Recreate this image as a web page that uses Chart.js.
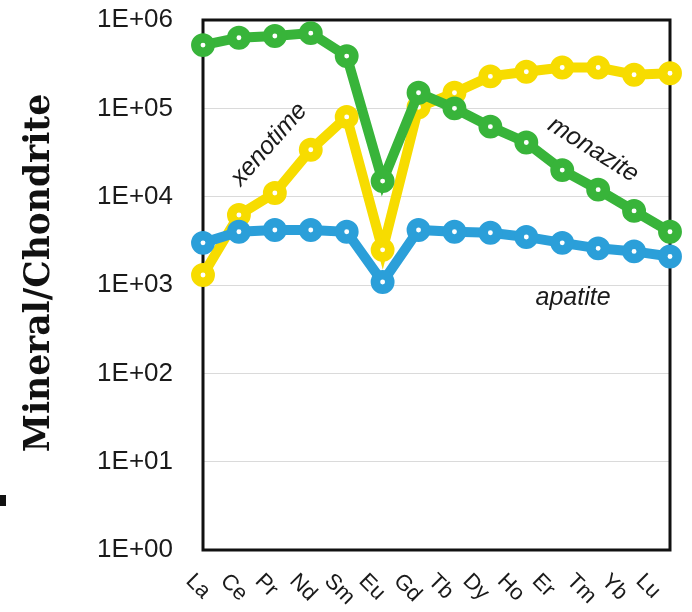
<!DOCTYPE html>
<html>
<head>
<meta charset="utf-8">
<script src="https://cdn.jsdelivr.net/npm/chart.js@4"></script>
<style>
html, body { margin: 0; padding: 0; background: #fff; }
</style>
</head>
<body>
<canvas id="reeChart" width="692" height="612"></canvas>
<script>
// REE patterns normalised to chondrite
const elements = ['La', 'Ce', 'Pr', 'Nd', 'Sm', 'Eu', 'Gd', 'Tb', 'Dy', 'Ho', 'Er', 'Tm', 'Yb', 'Lu'];
const apatite = [3000, 4000, 4200, 4200, 4000, 1080, 4200, 4000, 3900, 3500, 3000, 2600, 2400, 2100];
const monazite = [520000, 630000, 660000, 710000, 390000, 15000, 150000, 100000, 62000, 41000, 20000, 12000, 6900, 4000];
const xenotime = [1300, 6200, 11000, 34000, 80000, 2500, 103000, 150000, 230000, 260000, 290000, 290000, 240000, 250000];
const yTicks = [1, 10, 100, 1000, 10000, 100000, 1000000];
const yTickLabels = ['1E+00', '1E+01', '1E+02', '1E+03', '1E+04', '1E+05', '1E+06'];
const yTitle = 'Mineral/Chondrite';

const BLUE = '#2b9fd9';
const GREEN = '#38b43a';
const YELLOW = '#f7dc00';

function series(label, data, color) {
    return {
        label: label,
        data: data,
        borderColor: color,
        borderWidth: 10,
        pointRadius: 7.2,
        pointBorderWidth: 9.5,
        pointBackgroundColor: '#fff',
        pointBorderColor: color,
        tension: 0,
        clip: false
    };
}

// frame round the plot, axis title, rotated category labels and the series names
const decorations = {
    id: 'decorations',
    beforeDatasetsDraw(chart) {
        const { ctx, chartArea } = chart;
        ctx.save();
        ctx.strokeStyle = '#111';
        ctx.lineWidth = 3;
        ctx.strokeRect(chartArea.left, chartArea.top, chartArea.right - chartArea.left, chartArea.bottom - chartArea.top);
        ctx.restore();
    },
    afterDraw(chart) {
        const { ctx } = chart;
        const x = chart.scales.x;
        const y = chart.scales.y;
        ctx.save();

        // y axis title
        ctx.save();
        ctx.fillStyle = '#111';
        ctx.font = 'bold 34.5px "DejaVu Serif", serif';
        ctx.textAlign = 'center';
        ctx.textBaseline = 'middle';
        ctx.translate(40, 273);
        ctx.rotate(-Math.PI / 2);
        ctx.fillText(yTitle, 0, 0);
        ctx.restore();

        // stray mark at the left edge of the original figure
        ctx.fillStyle = '#111';
        ctx.fillRect(0, 495, 6, 11);

        ctx.fillStyle = '#1a1a1a';
        ctx.font = '22px "Liberation Sans", Arial, sans-serif';
        ctx.textAlign = 'left';
        ctx.textBaseline = 'alphabetic';
        elements.forEach((el, i) => {
            ctx.save();
            ctx.translate(x.getPixelForTick(i) - 18 - i * 1.3, 582);
            ctx.rotate(Math.PI / 4);
            ctx.fillText(el, 0, 0);
            ctx.restore();
        });

        ctx.font = 'italic 25px "Liberation Sans", Arial, sans-serif';
        ctx.textAlign = 'center';
        ctx.textBaseline = 'middle';
        const notes = [
            ['xenotime', 1.84, 39000, -48.5],
            ['monazite', 10.86, 34000, 32],
            ['apatite', 10.3, 713, 0]
        ];
        notes.forEach(([text, xi, yv, angle]) => {
            ctx.save();
            ctx.translate(x.getPixelForValue(xi), y.getPixelForValue(yv));
            ctx.rotate(angle * Math.PI / 180);
            ctx.fillText(text, 0, 0);
            ctx.restore();
        });
        ctx.restore();
    }
};

const ctxRee = document.getElementById('reeChart').getContext('2d');
const reeChart = new Chart(ctxRee, {
    type: 'line',
    data: {
        labels: elements,
        datasets: [
            series('apatite', apatite, BLUE),
            series('monazite', monazite, GREEN),
            series('xenotime', xenotime, YELLOW)
        ]
    },
    options: {
        responsive: false,
        animation: false,
        layout: { padding: { left: 0, right: 22, top: 20, bottom: 0 } },
        plugins: {
            legend: { display: false },
            tooltip: { enabled: false }
        },
        scales: {
            x: {
                offset: false,
                grid: { display: false },
                border: { display: false },
                ticks: { display: false },
                afterFit: (scale) => { scale.height = 62; }
            },
            y: {
                type: 'logarithmic',
                min: 1,
                max: 1000000,
                afterBuildTicks: (scale) => {
                    scale.ticks = yTicks.map(v => ({ value: v }));
                },
                ticks: {
                    padding: 30,
                    color: '#1a1a1a',
                    font: { family: '"Liberation Sans", Arial, sans-serif', size: 26 },
                    callback: (value, index) => yTickLabels[index]
                },
                grid: { color: '#dadada', lineWidth: 1, drawTicks: false },
                border: { display: false },
                afterFit: (scale) => {
                    scale.width = 203;
                    scale.paddingTop = 0;
                    scale.paddingBottom = 0;
                }
            }
        }
    },
    plugins: [decorations]
});
</script>
</body>
</html>
